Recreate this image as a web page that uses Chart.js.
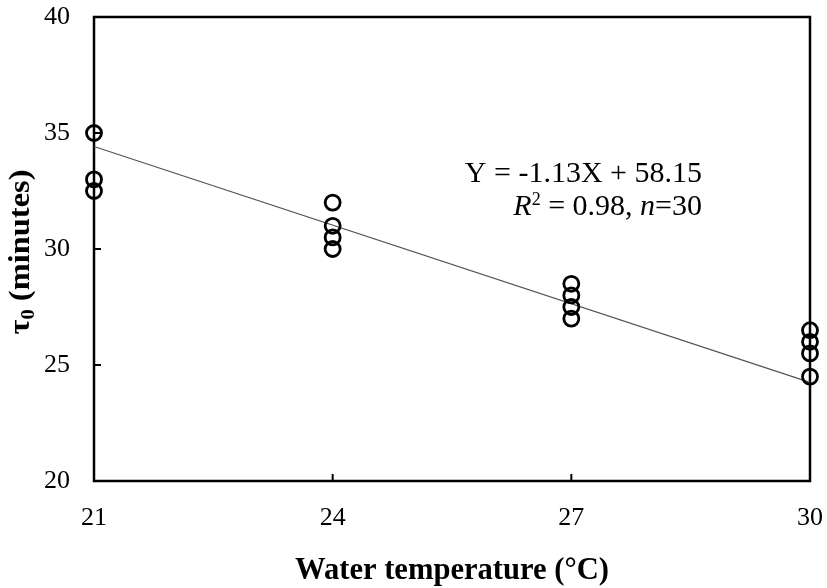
<!DOCTYPE html>
<html>
<head>
<meta charset="utf-8">
<script src="https://cdn.jsdelivr.net/npm/chart.js@4"></script>
<style>
  html, body { margin: 0; padding: 0; background: #fff; }
  #wrap { width: 827px; height: 588px; }
</style>
</head>
<body>
<div id="wrap"><canvas id="c" width="827" height="588"></canvas></div>
<script>
// ---- data ----
const temp21 = [35, 33, 32.5];
const temp24 = [32, 31, 30.5, 30];
const temp27 = [28.5, 28, 27.5, 27];
const temp30 = [26.5, 26, 25.5, 24.5];
const temperatures = [21, 24, 27, 30];
const trendX = [21, 30];
const trendY = [34.42, 24.25];
const xTicks = [21, 24, 27, 30];
const yTicks = [20, 25, 30, 35, 40];
const equationText = "Y = -1.13X + 58.15";
const xTitle = "Water temperature (\u00B0C)";

const groups = [temp21, temp24, temp27, temp30];
const points = [];
groups.forEach((g, i) => g.forEach(v => points.push({ x: temperatures[i], y: v })));
const trend = trendX.map((x, i) => ({ x: x, y: trendY[i] }));

const SERIF = "'Liberation Serif', 'Times New Roman', serif";

const framePlugin = {
  id: 'frame',
  beforeDatasetsDraw(chart) {
    const { ctx, chartArea: a, scales } = chart;
    ctx.save();
    ctx.strokeStyle = '#000';
    ctx.lineWidth = 2.5;
    ctx.strokeRect(a.left, a.top, a.right - a.left, a.bottom - a.top);
    ctx.lineWidth = 2;
    xTicks.slice(1, -1).forEach(t => {
      const px = scales.x.getPixelForValue(t);
      ctx.beginPath(); ctx.moveTo(px, a.bottom); ctx.lineTo(px, a.bottom - 7); ctx.stroke();
    });
    yTicks.slice(1, -1).forEach(t => {
      const py = scales.y.getPixelForValue(t);
      ctx.beginPath(); ctx.moveTo(a.left, py); ctx.lineTo(a.left + 7, py); ctx.stroke();
    });
    ctx.restore();
  },
  afterDraw(chart) {
    const { ctx, chartArea: a } = chart;
    ctx.save();
    ctx.fillStyle = '#000';
    // x axis title
    ctx.font = "bold 32px " + SERIF;
    ctx.textBaseline = 'alphabetic';
    ctx.textAlign = 'left';
    let w = ctx.measureText(xTitle).width;
    const targetW = 314;
    ctx.save();
    ctx.translate((a.left + a.right) / 2 - targetW / 2, 579);
    ctx.scale(targetW / w, 1);
    ctx.fillText(xTitle, 0, 0);
    ctx.restore();

    // y axis title: tau_0 (minutes)
    ctx.save();
    ctx.translate(29, 252);
    ctx.rotate(-Math.PI / 2);
    const big = "bold 30px " + SERIF, small = "bold 19px " + SERIF;
    ctx.font = big; const w1 = ctx.measureText("\u03C4").width;
    ctx.font = small; const w2 = ctx.measureText("0").width;
    ctx.font = big; const w3 = ctx.measureText(" (minutes)").width;
    const tot = w1 + w2 + w3;
    const tW = 165;
    ctx.scale(tW / tot, 1);
    let x0 = -tot / 2;
    ctx.font = big; ctx.fillText("\u03C4", x0, 0);
    ctx.font = small; ctx.fillText("0", x0 + w1, 5);
    ctx.font = big; ctx.fillText(" (minutes)", x0 + w1 + w2, 0);
    ctx.restore();

    // equation annotation
    const right = 702;
    ctx.font = "30px " + SERIF;
    ctx.textAlign = 'right';
    ctx.fillText(equationText, right, 182);
    ctx.textAlign = 'left';
    const parts = [
      { t: "R", f: "italic 30px " + SERIF, dy: 0 },
      { t: "2", f: "18px " + SERIF, dy: -10 },
      { t: " = 0.98, ", f: "30px " + SERIF, dy: 0 },
      { t: "n", f: "italic 30px " + SERIF, dy: 0 },
      { t: "=30", f: "30px " + SERIF, dy: 0 }
    ];
    let total = 0;
    parts.forEach(p => { ctx.font = p.f; p.w = ctx.measureText(p.t).width; total += p.w; });
    let x = right - total;
    parts.forEach(p => { ctx.font = p.f; ctx.fillText(p.t, x, 215 + p.dy); x += p.w; });
    ctx.restore();
  }
};

function zeroPad(s) { s.paddingLeft = 0; s.paddingRight = 0; s.paddingTop = 0; s.paddingBottom = 0; }

new Chart(document.getElementById('c'), {
  type: 'scatter',
  data: {
    datasets: [
      {
        type: 'line',
        data: trend,
        borderColor: '#555',
        borderWidth: 1.2,
        pointRadius: 0,
        fill: false,
        clip: false,
        order: 2
      },
      {
        type: 'scatter',
        data: points,
        pointStyle: 'circle',
        pointRadius: 7.5,
        pointBorderWidth: 2.8,
        borderColor: '#000',
        backgroundColor: 'rgba(0,0,0,0)',
        pointBackgroundColor: 'rgba(0,0,0,0)',
        pointBorderColor: '#000',
        clip: false,
        order: 1
      }
    ]
  },
  options: {
    responsive: false,
    animation: false,
    devicePixelRatio: 1,
    layout: { padding: { top: 17, right: 17, left: 0, bottom: 0 } },
    plugins: { legend: { display: false }, tooltip: { enabled: false } },
    scales: {
      x: {
        type: 'linear',
        min: 21, max: 30,
        afterBuildTicks: s => { s.ticks = xTicks.map(v => ({ value: v })); },
        afterFit: s => { s.height = 107; zeroPad(s); },
        grid: { display: false, drawTicks: false },
        border: { display: false },
        ticks: { font: { family: SERIF, size: 26 }, color: '#000', padding: 22, maxRotation: 0 }
      },
      y: {
        type: 'linear',
        min: 20, max: 40,
        afterBuildTicks: s => { s.ticks = yTicks.map(v => ({ value: v })); },
        afterFit: s => { s.width = 94; zeroPad(s); },
        grid: { display: false, drawTicks: false },
        border: { display: false },
        ticks: { font: { family: SERIF, size: 26 }, color: '#000', padding: 24 }
      }
    }
  },
  plugins: [framePlugin]
});
</script>
</body>
</html>
